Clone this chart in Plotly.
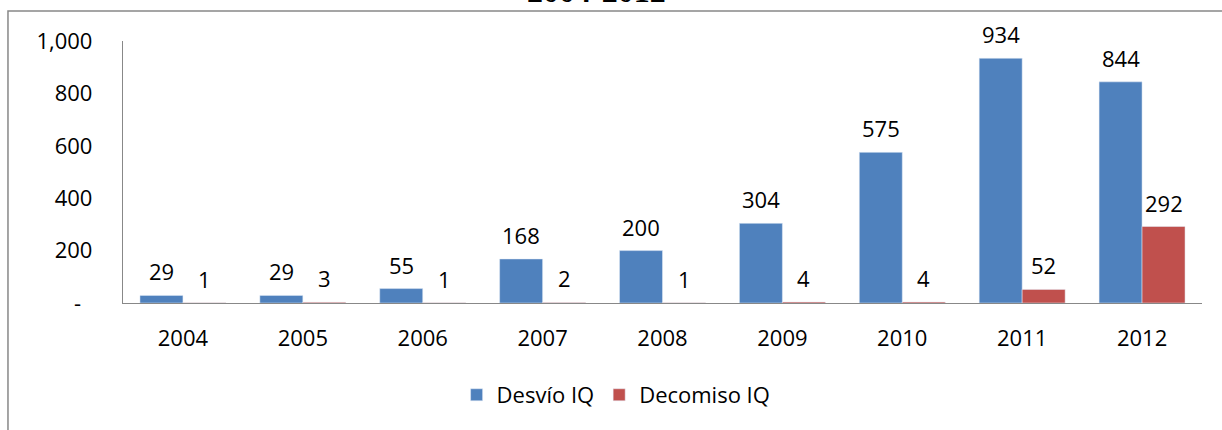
import plotly.graph_objects as go

years = ["2004", "2005", "2006", "2007", "2008", "2009", "2010", "2011", "2012"]
desvio = [29, 29, 55, 168, 200, 304, 575, 934, 844]
decomiso = [1, 3, 1, 2, 1, 4, 4, 52, 292]
ytickvals = [0, 200, 400, 600, 800, 1000]
yticktext = ["-\u00a0\u00a0", "200", "400", "600", "800", "1,000"]
title_text = "2004-2012"

FONT = "Open Sans"
BLUE = "#4F81BD"
RED = "#C0504D"

fig = go.Figure()
fig.add_trace(go.Bar(x=years, y=desvio, name="Desvío IQ", marker_color=BLUE))
fig.add_trace(go.Bar(x=years, y=decomiso, name="Decomiso IQ", marker_color=RED))

annotations = []
for i, v in enumerate(desvio):
    annotations.append(dict(x=i, y=v, xref="x", yref="y", text=f"{v:,}", showarrow=False,
                            xshift=-21.5, yshift=24, yanchor="middle",
                            font=dict(family=FONT, size=22, color="black")))
for i, v in enumerate(decomiso):
    annotations.append(dict(x=i, y=v, xref="x", yref="y", text=f"{v:,}", showarrow=False,
                            xshift=21.5, yshift=24, yanchor="middle",
                            font=dict(family=FONT, size=22, color="black")))
annotations.append(dict(x=0.439, y=1.115, xref="paper", yref="paper", text=f"<b>{title_text}</b>",
                        showarrow=False, xanchor="center", yanchor="bottom",
                        font=dict(family="Liberation Serif", size=32, color="black")))

fig.update_layout(
    width=1222, height=430, autosize=False,
    margin=dict(l=123, r=20, t=41, b=127, autoexpand=False),
    paper_bgcolor="white", plot_bgcolor="white",
    barmode="group", bargap=0.283, bargroupgap=0,
    font=dict(family=FONT, size=22, color="black"),
    showlegend=True,
    legend=dict(orientation="h", x=0.457, xanchor="center", y=-0.351, yanchor="middle",
                font=dict(family=FONT, size=22, color="black"), itemwidth=30),
    annotations=annotations,
    shapes=[dict(type="rect", xref="paper", yref="paper", x0=-0.1066, x1=1.05, y0=-0.6, y1=1.1145,
                 line=dict(color="#888888", width=1.5), layer="below")],
)
fig.update_xaxes(type="category", range=[-0.5, len(years) - 0.5], showline=True,
                 linecolor="#888888", linewidth=1.3, ticks="",
                 showgrid=False, automargin=False,
                 ticklabelstandoff=15, tickfont=dict(family=FONT, size=22, color="black"))
fig.update_yaxes(range=[0, 1000], tickvals=ytickvals, ticktext=yticktext, showline=True,
                 linecolor="#888888", linewidth=1.3, ticks="", showgrid=False, zeroline=False,
                 automargin=False,
                 ticklabelstandoff=25, tickfont=dict(family=FONT, size=22, color="black"))

fig.write_html("out.html", config={"displayModeBar": False},
               post_script="document.body.style.margin='0';")
